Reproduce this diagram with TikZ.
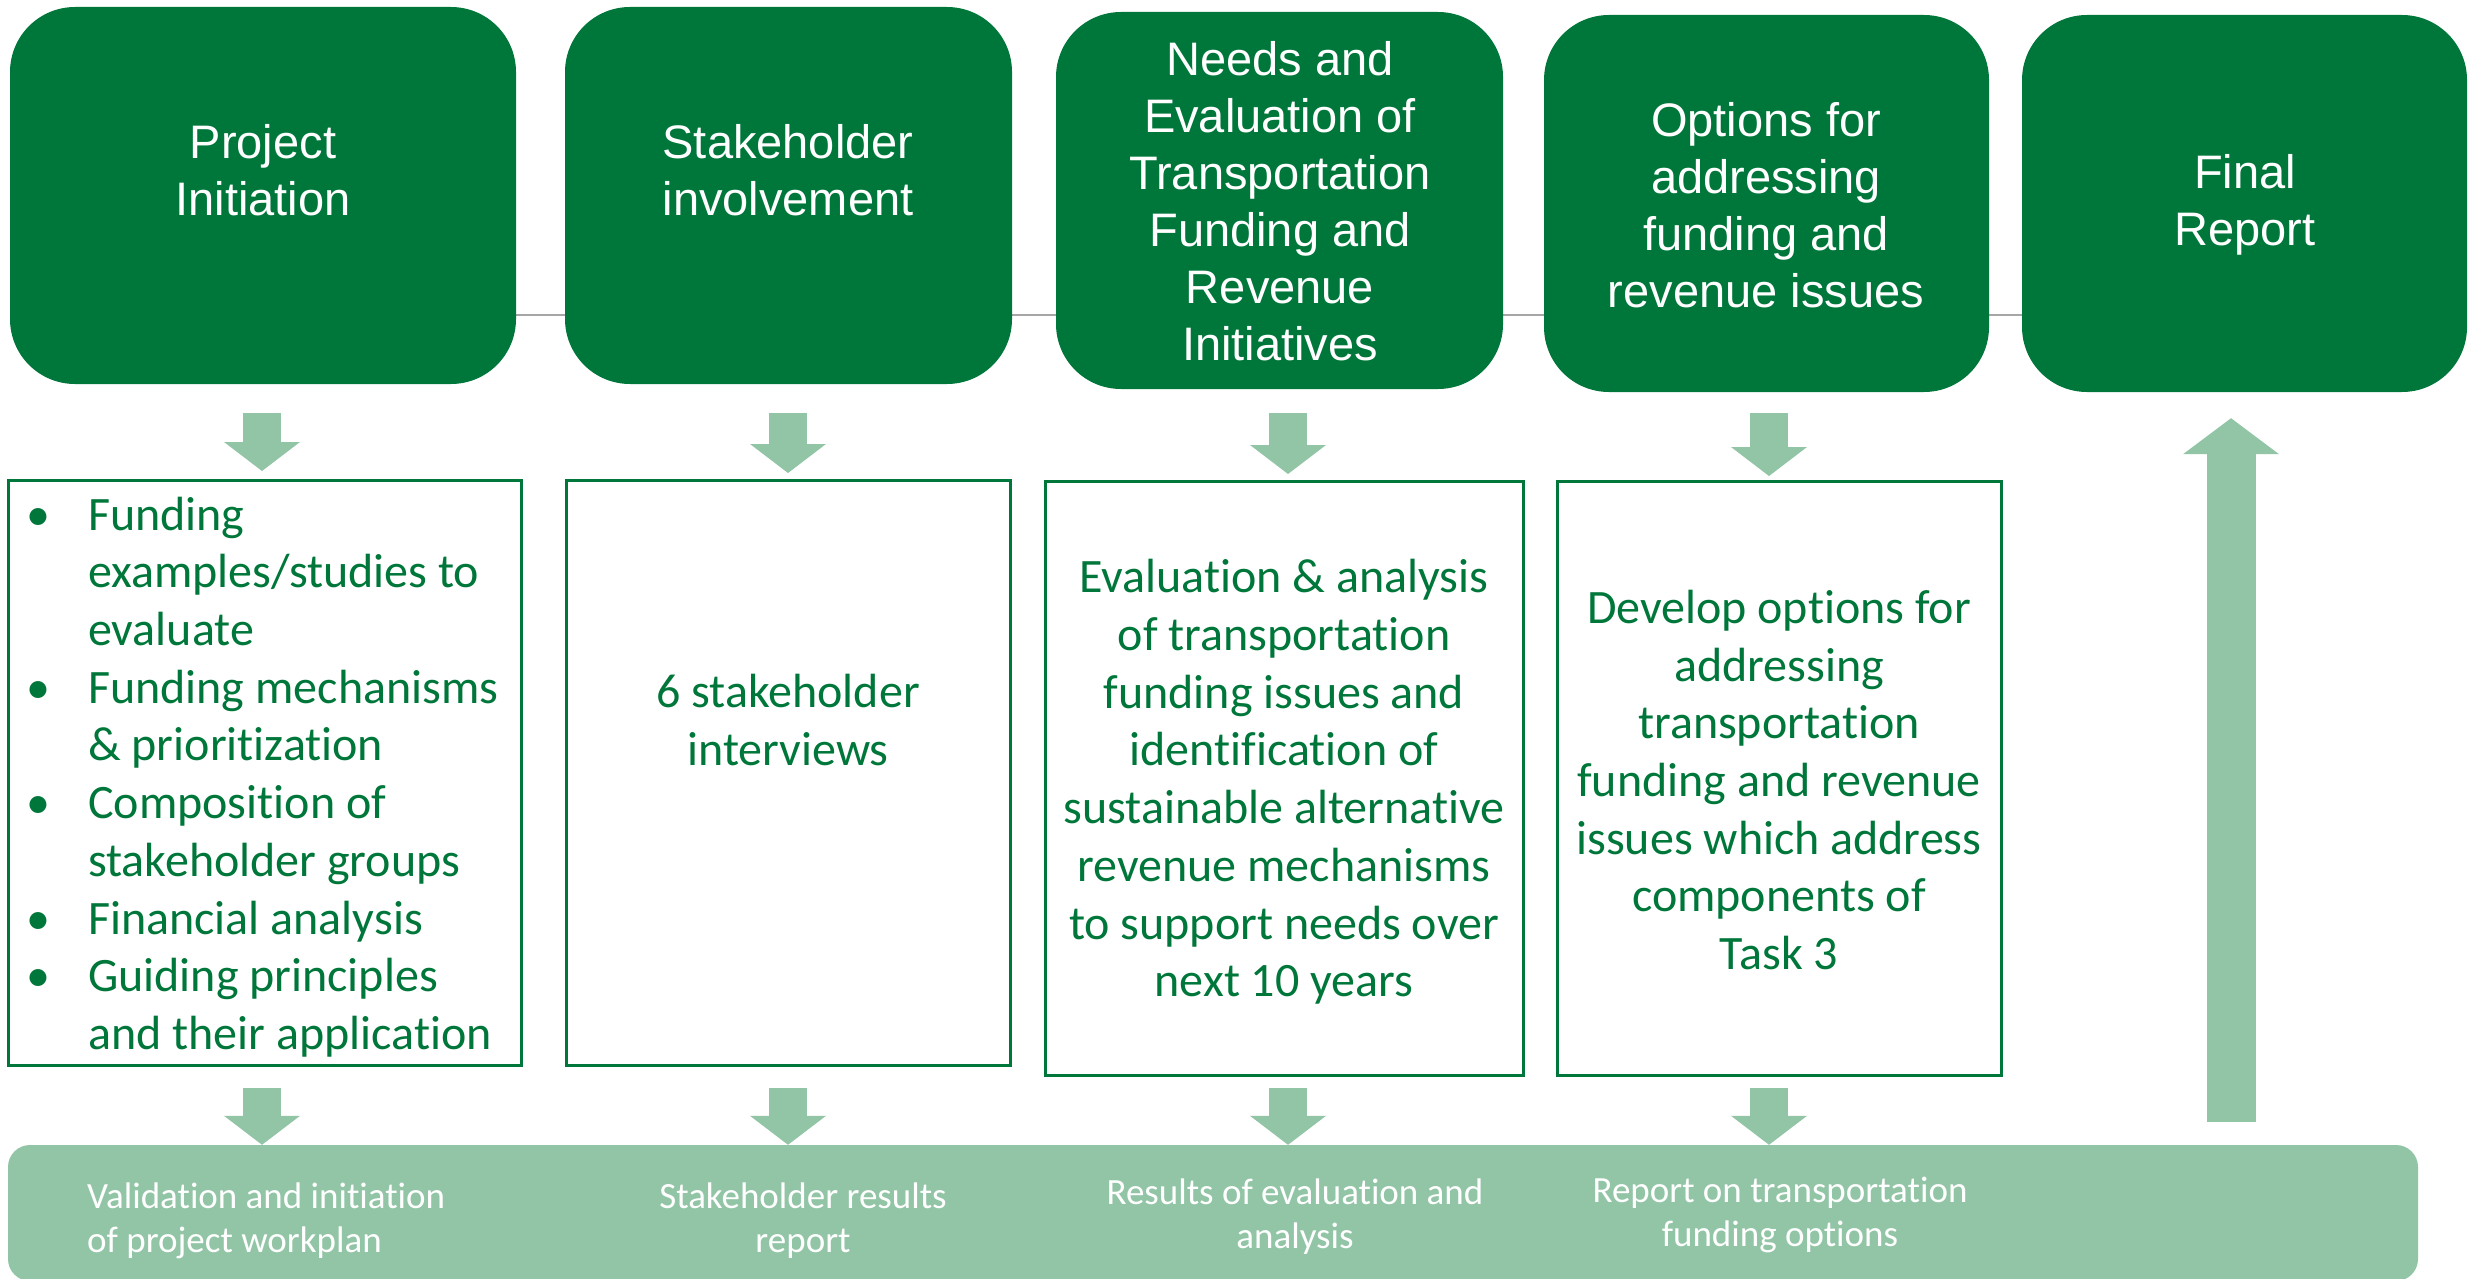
\documentclass[tikz,border=0pt]{standalone}
\usepackage{fontspec}
\setmainfont{Carlito}[Ligatures=NoCommon]
\newfontfamily\arialf{Liberation Sans}
\usetikzlibrary{arrows.meta,backgrounds}
\definecolor{dg}{HTML}{00773A}
\definecolor{lg}{HTML}{92C5A6}
\definecolor{gline}{HTML}{A6A6A6}
\begin{document}
\begin{tikzpicture}[x=1pt,y=-1pt,
  topbox/.style={fill=dg, draw=none, rounded corners=65pt, inner sep=0pt},
  toptext/.style={text=white, font=\arialf\fontsize{47}{57}\selectfont, align=center, inner sep=0pt},
  midbox/.style={draw=dg, line width=3pt, fill=white, inner sep=0pt},
  midtext/.style={text=dg, font=\fontsize{48}{57.7}\selectfont, align=center, inner sep=0pt},
  bandtext/.style={text=white, font=\fontsize{37}{44}\selectfont, inner sep=0pt},
  blk/.style={draw=lg, line width=38pt, -{Triangle[length=29pt, width=76pt, line width=0pt]}},
  upblk/.style={draw=lg, line width=49pt, -{Triangle[length=36pt, width=96pt, line width=0pt]}}
]
\useasboundingbox (0,0) rectangle (2470,1279);

% top boxes
\node[topbox, minimum width=506pt, minimum height=377pt] (t1) at (263,195.5) {};
\node[topbox, minimum width=447pt, minimum height=377pt] (t2) at (788.5,195.5) {};
\node[topbox, minimum width=447pt, minimum height=377pt] (t3) at (1279.5,200.5) {};
\node[topbox, minimum width=445pt, minimum height=377pt] (t4) at (1766.5,203.5) {};
\node[topbox, minimum width=445pt, minimum height=377pt] (t5) at (2244.5,203.5) {};

\node[toptext] (tt1) at (263,170) {Project\\Initiation};
\node[toptext] (tt2) at (788,170) {Stakeholder\\involvement};
\node[toptext] (tt3) at (1280,201) {Needs and\\Evaluation of\\Transportation\\Funding and\\Revenue\\Initiatives};
\node[toptext] (tt4) at (1766,205) {Options for\\addressing\\funding and\\revenue issues};
\node[toptext] (tt5) at (2245,205) {Final\\Report};

% grey connecting line behind the boxes
\coordinate (gy) at (0,315);
\begin{scope}[on background layer]
\draw[gline, line width=2pt] (gy -| t1.east) -- (gy -| t5.west);
\end{scope}

% middle boxes
\node[midbox, minimum width=513pt, minimum height=585pt] (m1) at (265,773) {};
\node[midbox, minimum width=444pt, minimum height=585pt] (m2) at (788.5,773) {};
\node[midbox, minimum width=478pt, minimum height=594pt] (m3) at (1284.5,778.5) {};
\node[midbox, minimum width=444pt, minimum height=594pt] (m4) at (1779.5,778.5) {};

\node[midtext, align=left, anchor=west] (mt1) at (26,777) {%
\makebox[62pt][l]{\textbullet}Funding\\
\hspace*{62pt}examples/studies to\\
\hspace*{62pt}evaluate\\
\makebox[62pt][l]{\textbullet}Funding mechanisms\\
\hspace*{62pt}\& prioritization\\
\makebox[62pt][l]{\textbullet}Composition of\\
\hspace*{62pt}stakeholder groups\\
\makebox[62pt][l]{\textbullet}Financial analysis\\
\makebox[62pt][l]{\textbullet}Guiding principles\\
\hspace*{62pt}and their application};
\node[midtext] (mt2) at (788,720) {6 stakeholder\\interviews};
\node[midtext] (mt3) at (1284,782) {Evaluation \& analysis\\of transportation\\funding issues and\\identification of\\sustainable alternative\\revenue mechanisms\\to support needs over\\next 10 years};
\node[midtext] (mt4) at (1779,780) {Develop options for\\addressing\\transportation\\funding and revenue\\issues which address\\components of\\Task 3};

% bottom band
\node[fill=lg, rounded corners=22pt, minimum width=2410pt, minimum height=136pt, inner sep=0pt] (b) at (1213,1213) {};
\node[bandtext, align=left, anchor=west] (bl1) at (87,1221) {Validation and initiation\\of project workplan};
\node[bandtext, align=center] (bl2) at (803,1221) {Stakeholder results\\report};
\node[bandtext, align=center] (bl3) at (1295,1217) {Results of evaluation and\\analysis};
\node[bandtext, align=center] (bl4) at (1780,1215) {Report on transportation\\funding options};

% arrow columns
\coordinate (a1) at (262,0);
\coordinate (a2) at (788,0);
\coordinate (a3) at (1288,0);
\coordinate (a4) at (1769,0);
\coordinate (ua) at (2231,0);
\coordinate (toprow) at (0,413);
\coordinate (botrow) at (0,1088);

\draw[blk, shorten >=8pt] (a1 |- toprow) -- (a1 |- m1.north);
\draw[blk, shorten >=6pt] (a2 |- toprow) -- (a2 |- m2.north);
\draw[blk, shorten >=6pt] (a3 |- toprow) -- (a3 |- m3.north);
\draw[blk, shorten >=4pt] (a4 |- toprow) -- (a4 |- m4.north);

\draw[blk] (a1 |- botrow) -- (a1 |- b.north);
\draw[blk] (a2 |- botrow) -- (a2 |- b.north);
\draw[blk] (a3 |- botrow) -- (a3 |- b.north);
\draw[blk] (a4 |- botrow) -- (a4 |- b.north);

\draw[upblk, shorten <=23pt, shorten >=26pt] (ua |- b.north) -- (ua |- t5.south);
\end{tikzpicture}
\end{document}
